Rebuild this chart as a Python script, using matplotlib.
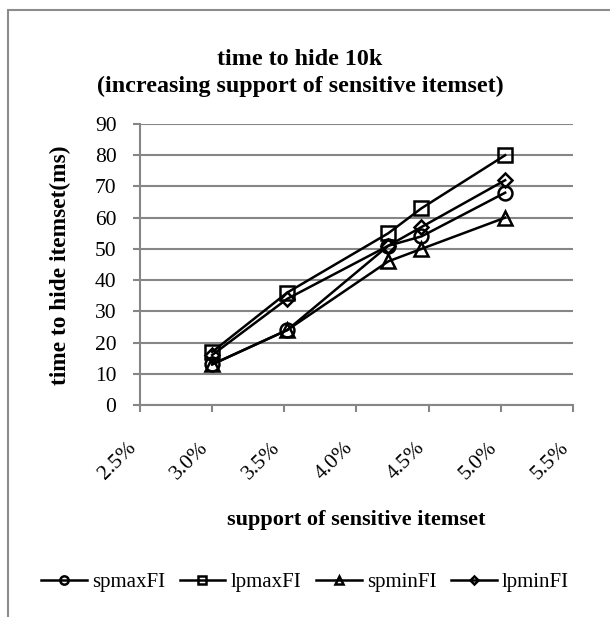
import matplotlib
matplotlib.use("Agg")
import matplotlib.pyplot as plt
from matplotlib.patches import Rectangle
from matplotlib.ticker import FuncFormatter, MultipleLocator

plt.rcParams['font.family'] = ['Liberation Serif', 'DejaVu Serif']

# Data
support = [3.00, 3.52, 4.22, 4.45, 5.03]  # percent
spmaxFI = [13, 24, 51, 54, 68]
lpmaxFI = [17, 36, 55, 63, 80]
spminFI = [13, 24, 46, 50, 60]
lpminFI = [16, 34, 51, 57, 72]
series = [("spmaxFI", spmaxFI, "o"), ("lpmaxFI", lpmaxFI, "s"),
          ("spminFI", spminFI, "^"), ("lpminFI", lpminFI, "D")]
title = "time to hide 10k\n(increasing support of sensitive itemset)"
xlabel = "support of sensitive itemset"
ylabel = "time to hide itemset(ms)"

W, H = 610, 617
fig = plt.figure(figsize=(W / 100, H / 100), dpi=100)

# chart-area frame
fig.patches.append(Rectangle((8 / W, -0.1), 1.1, (H - 10) / H + 0.1,
                             transform=fig.transFigure, fill=False,
                             edgecolor="#8c8c8c", linewidth=1.5))

ax = fig.add_axes([140 / W, (H - 405) / H, (573 - 140) / W, (405 - 124) / H])
gray = "#868686"
msizes = {"o": 10, "s": 10, "^": 10, "D": 7.5}
for name, vals, m in series:
    ax.plot(support, vals, color="black", linewidth=1.8, marker=m,
            markersize=msizes[m], markerfacecolor="none",
            markeredgecolor="black", markeredgewidth=1.8, label=name,
            zorder=3)

ax.set_xlim(2.5, 5.5)
ax.set_ylim(0, 90)
ax.xaxis.set_major_locator(MultipleLocator(0.5))
ax.yaxis.set_major_locator(MultipleLocator(10))
ax.xaxis.set_major_formatter(FuncFormatter(lambda v, p: f"{v:.1f}%"))
ax.grid(axis="y", color=gray, linewidth=1.5)
ax.set_axisbelow(True)
for s in ["top", "right"]:
    ax.spines[s].set_visible(False)
for s in ["left", "bottom"]:
    ax.spines[s].set_color(gray)
    ax.spines[s].set_linewidth(1.5)
ax.tick_params(axis="both", color=gray, width=1.5, length=5, labelsize=15.5)
ax.tick_params(axis="y", pad=12)
ax.tick_params(axis="x", pad=19)
for lab in ax.get_xticklabels():
    lab.set_rotation(45)
    lab.set_ha("right")
    lab.set_va("top")

fig.text(300 / W, 1 - 73 / H, title, ha="center", va="center",
         fontsize=17.3, fontweight="bold", linespacing=1.3)
fig.text(356 / W, 1 - 520 / H, xlabel, ha="center", va="center",
         fontsize=16, fontweight="bold")
fig.text(60 / W, 1 - 265 / H, ylabel, ha="center", va="center",
         fontsize=16.8, fontweight="bold", rotation=90)

fig.legend(loc="center", bbox_to_anchor=(305 / W, 1 - 582 / H), ncol=4,
           frameon=False, fontsize=15, markerscale=0.6, handlelength=2.2,
           handletextpad=0.25, columnspacing=0.7)

fig.savefig("out.png", dpi=100)
